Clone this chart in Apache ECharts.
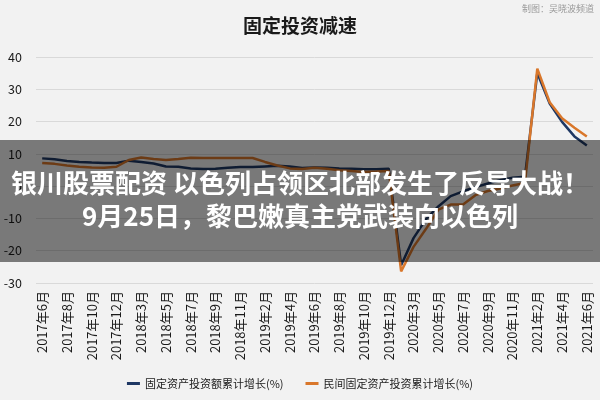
<!DOCTYPE html>
<html>
<head>
<meta charset="utf-8">
<script src="https://cdn.jsdelivr.net/npm/echarts@6/dist/echarts.min.js"></script>
<style>html,body{margin:0;padding:0;background:#f2f2f2}#c{width:600px;height:400px}</style>
</head>
<body>
<div id="c"></div>
<script>
var categories = [
  '2017年6月','2017年7月','2017年8月','2017年9月','2017年10月','2017年11月','2017年12月',
  '2018年2月','2018年3月','2018年4月','2018年5月','2018年6月','2018年7月','2018年8月','2018年9月','2018年10月','2018年11月','2018年12月',
  '2019年2月','2019年3月','2019年4月','2019年5月','2019年6月','2019年7月','2019年8月','2019年9月','2019年10月','2019年11月','2019年12月',
  '2020年2月','2020年3月','2020年4月','2020年5月','2020年6月','2020年7月','2020年8月','2020年9月','2020年10月','2020年11月','2020年12月',
  '2021年2月','2021年3月','2021年4月','2021年5月','2021年6月'
];
var totalFAI = [
  8.6,8.3,7.8,7.5,7.3,7.2,7.2,
  7.9,7.5,7.0,6.1,6.0,5.5,5.3,5.4,5.7,5.9,5.9,
  6.1,6.3,6.1,5.6,5.8,5.7,5.5,5.4,5.2,5.2,5.4,
  -24.5,-16.1,-10.3,-6.3,-3.1,-1.6,-0.3,0.8,1.8,2.6,2.9,
  35.0,25.6,19.9,15.4,12.6
];
var privateFAI = [
  7.2,6.9,6.4,6.0,5.8,5.7,6.0,
  8.1,8.9,8.4,8.1,8.4,8.8,8.7,8.7,8.7,8.7,8.7,
  7.5,6.4,5.5,5.3,5.7,5.4,4.9,4.7,4.4,4.5,4.7,
  -26.4,-18.8,-13.3,-7.3,-5.7,-5.7,-2.8,-1.5,-0.7,0.2,1.0,
  36.4,26.0,21.0,18.1,15.4
];
var seriesNames = ['固定资产投资额累计增长(%)','民间固定资产投资累计增长(%)'];
var titleText = '固定投资减速';
var creditText = '制图：吴晓波频道';
var bannerLine1 = '银川股票配资 以色列占领区北部发生了反导大战！';
var bannerLine2 = '9月25日，黎巴嫩真主党武装向以色列';

var FONT = '"Noto Sans CJK SC", "Noto Sans", sans-serif';
var chart = echarts.init(document.getElementById('c'), null, {renderer:'canvas'});
chart.setOption({
  backgroundColor: '#f2f2f2',
  animation: false,
  textStyle: {fontFamily: FONT},
  title: {
    text: titleText, left: 'center', top: 11,
    textStyle: {fontSize: 19, fontWeight: 'bold', color: '#1a1a1a', fontFamily: FONT}
  },
  legend: {
    bottom: 6, left: 'center', itemGap: 22,
    icon: 'rect', itemWidth: 13, itemHeight: 3,
    textStyle: {fontSize: 11, color: '#222', fontFamily: FONT},
    data: seriesNames
  },
  grid: {left: 36, right: 7, top: 57, bottom: 117, containLabel: false},
  xAxis: {
    type: 'category', data: categories, boundaryGap: true,
    axisLine: {show: false}, axisTick: {show: false},
    axisLabel: {rotate: 90, interval: 1, fontSize: 13, color: '#1a1a1a', margin: 8, fontFamily: FONT}
  },
  yAxis: {
    type: 'value', min: -30, max: 40, interval: 10,
    axisLine: {show: false}, axisTick: {show: false},
    axisLabel: {fontSize: 12.5, color: '#1a1a1a', margin: 14, fontFamily: FONT},
    splitLine: {lineStyle: {color: '#d9d9d9', width: 1}}
  },
  series: [
    {name: seriesNames[0], type: 'line', data: totalFAI, symbol: 'none',
     lineStyle: {color: '#1f3864', width: 2.5}, itemStyle: {color: '#1f3864'}, z: 2},
    {name: seriesNames[1], type: 'line', data: privateFAI, symbol: 'none',
     lineStyle: {color: '#d9772b', width: 2.5}, itemStyle: {color: '#d9772b'}, z: 3}
  ],
  graphic: [
    {type: 'text', right: 6, top: 4, z: 10,
     style: {text: creditText, fill: '#9a9a9a', fontSize: 9, fontFamily: FONT}},
    {type: 'rect', left: 0, top: 140, z: 100,
     shape: {width: 600, height: 122}, style: {fill: 'rgba(0,0,0,0.5)'}},
    {type: 'text', left: 'center', top: 170, z: 101,
     style: {text: bannerLine1, fill: '#ffffff', fontSize: 26, fontWeight: 'bold', fontFamily: FONT}},
    {type: 'text', left: 'center', top: 203, z: 101,
     style: {text: bannerLine2, fill: '#ffffff', fontSize: 26, fontWeight: 'bold', fontFamily: FONT}}
  ]
});
</script>
</body>
</html>
